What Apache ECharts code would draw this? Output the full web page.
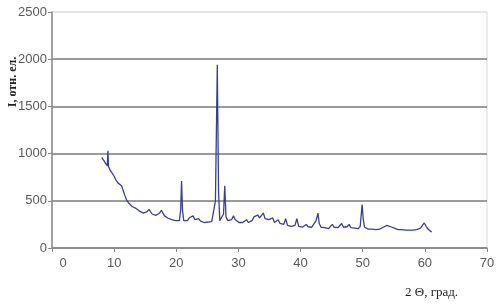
<!DOCTYPE html>
<html><head><meta charset="utf-8">
<script src="https://cdn.jsdelivr.net/npm/echarts@6/dist/echarts.min.js"></script>
<style>html,body{margin:0;padding:0;background:#fff}#c{width:499px;height:305px}</style>
</head><body><div id="c"></div>
<script>
const xTicks = [0,10,20,30,40,50,60,70];
const yTicks = [0,500,1000,1500,2000,2500];
const xName = '2 Θ, град.';
const yName = 'I, отн. ел.';
const angle = [8.0,8.3,8.6,8.9,9.0,9.1,9.4,9.7,10.0,10.3,10.6,10.9,11.2,11.4,11.7,12.0,12.3,12.6,12.9,13.2,13.5,13.8,14.1,14.4,14.7,15.0,15.3,15.6,15.8,16.1,16.4,16.7,17.0,17.3,17.6,17.8,18.1,18.4,18.7,19.0,19.3,19.6,19.9,20.2,20.5,20.7,20.85,21.0,21.2,21.5,21.8,22.1,22.4,22.7,23.0,23.3,23.6,23.9,24.2,24.5,24.8,25.1,25.4,25.7,26.0,26.3,26.6,26.8,27.0,27.3,27.6,27.8,28.0,28.3,28.6,28.9,29.2,29.5,29.8,30.1,30.4,30.7,31.0,31.3,31.6,31.9,32.2,32.5,32.8,33.1,33.4,33.7,34.0,34.3,34.6,34.9,35.2,35.5,35.8,36.1,36.4,36.7,37.0,37.3,37.6,37.9,38.2,38.5,38.8,39.1,39.4,39.7,40.0,40.3,40.6,40.9,41.2,41.5,41.8,42.1,42.5,42.8,43.0,43.3,43.6,43.9,44.2,44.5,44.8,45.1,45.4,45.7,46.0,46.3,46.6,46.9,47.2,47.5,47.8,48.1,48.4,48.7,49.0,49.3,49.6,49.9,50.1,50.3,50.6,50.9,51.2,51.5,51.8,52.1,52.4,52.7,53.0,53.3,53.6,53.9,54.2,54.5,54.8,55.1,55.4,55.7,56.0,56.3,56.6,56.9,57.2,57.5,57.8,58.1,58.4,58.7,59.0,59.3,59.6,59.9,60.2,60.5,60.8,61.1];
const intensity = [960,930,900,870,1030,860,820,790,760,720,690,670,660,640,560,510,480,460,440,430,420,400,390,380,370,375,385,410,395,360,350,345,350,370,400,390,340,320,315,305,300,295,290,285,290,400,710,400,290,280,290,320,330,340,300,290,310,285,280,270,285,275,270,280,300,500,1940,600,290,280,360,660,330,290,285,300,340,300,280,270,265,270,280,300,270,275,290,330,310,350,320,340,370,310,290,300,280,320,270,250,300,260,245,250,310,240,235,230,235,240,310,230,225,220,230,250,225,215,220,240,290,370,260,220,210,215,210,205,215,250,220,210,215,230,260,220,210,225,250,215,205,210,200,205,230,460,300,220,205,200,195,200,190,195,190,200,210,220,230,240,235,225,215,210,200,195,190,195,185,190,195,190,185,190,200,195,205,210,230,265,230,200,185,170];

const chart = echarts.init(document.getElementById('c'), null, {renderer:'canvas'});
chart.setOption({
  animation:false,
  grid:{left:52,right:12,top:12,bottom:57,show:true,borderColor:'#d9d9d9',borderWidth:1},
  xAxis:{type:'value',min:0,max:70,interval:10,
    axisLine:{onZero:false,lineStyle:{color:'#8a8a8a',width:1.5}},
    axisTick:{show:true,length:4,lineStyle:{color:'#8a8a8a'}},
    splitLine:{show:false},
    axisLabel:{color:'#5a5a5a',fontFamily:'Liberation Sans',fontSize:13,margin:9,
      formatter:v=>v===0?'{z|0}':String(v),
      rich:{z:{padding:[0,0,0,22],color:'#5a5a5a',fontFamily:'Liberation Sans',fontSize:13}}}},
  yAxis:{type:'value',min:0,max:2500,interval:500,
    axisLine:{show:true,lineStyle:{color:'#8a8a8a',width:1.5}},
    axisTick:{show:true,length:4,lineStyle:{color:'#8a8a8a'}},
    splitLine:{show:true,lineStyle:{color:['#7a7a7a','#7a7a7a','#7a7a7a','#7a7a7a','#7a7a7a','#e2e2e2'],width:1.5}},
    axisLabel:{color:'#5a5a5a',fontFamily:'Liberation Sans',fontSize:13,margin:5,formatter:v=>String(v)}},
  graphic:[
    {type:'text',x:13,y:82,rotation:Math.PI/2,
      style:{text:yName,font:'bold 12px "Liberation Serif"',fill:'#222',align:'center',verticalAlign:'middle'}},
    {type:'text',left:405,top:286,style:{text:xName,font:'13px "Liberation Serif"',fill:'#222'}}
  ],
  series:[{type:'line',data:angle.map((a,i)=>[a,intensity[i]]),showSymbol:false,
    lineStyle:{color:'#3c3f8e',width:1.3},itemStyle:{color:'#3c3f8e'}}]
});
</script></body></html>
